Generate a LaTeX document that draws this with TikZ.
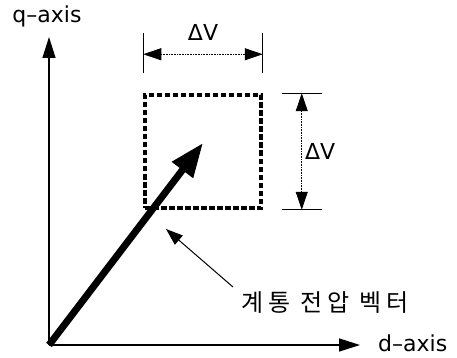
\documentclass[tikz,border=0pt]{standalone}
\usepackage{fontspec}
\setmainfont{DejaVu Sans}
\newfontfamily\krfont[LetterSpace=20]{Noto Sans CJK KR}
\usetikzlibrary{arrows.meta}

\begin{document}
\begin{tikzpicture}[
  x=1pt,y=-1pt,
  axis/.style={line width=1.3pt,-{Triangle[length=21pt,width=13pt]}},
  vec/.style={line width=7pt,-{Triangle[length=34pt,width=25pt]}},
  dashbox/.style={
    draw,
    line width=3.5pt,
    dash pattern=on 5.5pt off 2.5pt,
    minimum width=116pt,
    minimum height=113pt,
    inner sep=0pt
  },
  dim/.style={line width=.8pt,dash pattern=on 1pt off .6pt,
    {Triangle[length=18pt,width=12pt]}-{Triangle[length=18pt,width=12pt]}},
  tick/.style={line width=1pt},
  lbl/.style={font=\fontsize{22}{26}\selectfont,inner sep=0pt}
]
  \useasboundingbox (0,0) rectangle (457,358);

  % axes
  \coordinate (O) at (49,345);
  \coordinate (qtip) at (49,37);
  \coordinate (dtip) at (360,345);
  \draw[axis] (O) -- (qtip);
  \draw[axis] (O) -- (dtip);
  \node[lbl] (qlabel) at (47,16) {q\textendash axis};
  \node[lbl,anchor=west] (dlabel) at (378,343) {d\textendash axis};

  % variation box and its two dimensions
  \node[dashbox] (box) at (203,151.5) {};
  \draw[tick] (box.north west) ++(0,-20) -- ++(0,-40);
  \draw[tick] (box.north east) ++(0,-20) -- ++(0,-40);
  \coordinate (ha) at ([yshift=39pt]box.north west);
  \coordinate (hb) at ([yshift=39pt]box.north east);
  \draw[dim] (ha) -- (hb) node[lbl,midway,above=13pt] (dvh) {ΔV};

  \draw[tick] (box.north east) ++(19,0) -- ++(40,0);
  \draw[tick] (box.south east) ++(19,0) -- ++(40,0);
  \coordinate (va) at ([xshift=39pt]box.north east);
  \coordinate (vb) at ([xshift=39pt]box.south east);
  \draw[dim] (va) -- (vb) node[lbl,midway,right=3pt] (dvv) {ΔV};

  % grid voltage vector
  \coordinate (vtip) at (203,143);
  \draw[vec] (O) -- (vtip);

  % pointer label
  \node[lbl,font=\krfont\fontsize{24}{28}\selectfont] (vlabel) at (325,303) {계통 전압 벡터};
  \coordinate (ptip) at (166,229);
  \draw[line width=1pt,-{Triangle[length=17pt,width=12pt]}]
    ([xshift=-92pt,yshift=16pt]vlabel.center) -- (ptip);
\end{tikzpicture}
\end{document}
